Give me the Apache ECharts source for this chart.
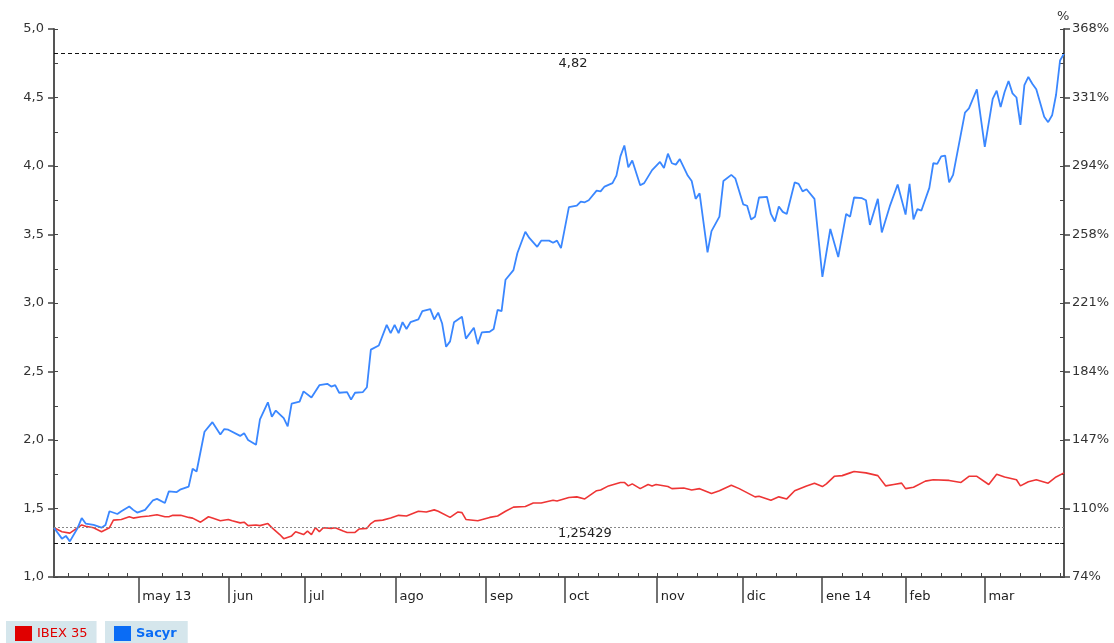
<!DOCTYPE html>
<html lang="es">
<head>
    <meta charset="UTF-8">
    <title>Sacyr vs IBEX 35</title>
    <script src="https://cdn.jsdelivr.net/npm/echarts@6/dist/echarts.min.js"></script>
    <style>
        html, body { margin: 0; padding: 0; background: #fff; }
        #chart { width: 1114px; height: 643px; }
    </style>
</head>
<body>
<div id="chart"></div>
<script type="text/javascript">
// x = trading day index (0 .. 255), y = price (IBEX rebased to Sacyr's start)
var baseValue = 1.359;
var maxLevel = 4.82;
var minLevel = 1.25429;

var monthTicks = [21.3, 44.2, 63.4, 86.2, 109.1, 129.0, 152.2, 173.9, 193.9, 215.0, 234.9];
var monthLabels = ['may 13', 'jun', 'jul', 'ago', 'sep', 'oct', 'nov', 'dic', 'ene 14', 'feb', 'mar'];
var weekTicks = [3.6, 8.6, 13.6, 18.6, 27.4, 32.4, 37.4, 42.4, 47.4, 52.4, 57.4, 62.4, 67.4, 72.4,
    77.4, 82.4, 87.4, 92.4, 97.4, 102.4, 107.4, 112.4, 117.4, 122.4, 127.4, 132.4, 137.4, 142.4,
    147.4, 152.4, 157.4, 162.4, 167.4, 172.4, 177.4, 182.4, 187.4, 199, 204, 209, 214, 219, 224,
    229, 234, 239, 244, 249, 254];

var sacyrDay = [0, 2, 3, 4, 6, 7, 8, 10, 12, 13, 14, 16, 17, 19, 20, 21, 23, 25, 26, 28, 29, 31, 32, 34,
    35, 36, 38, 40, 42, 43, 44, 47, 48, 49, 51, 52, 54, 55, 56, 58, 59, 60, 62, 63, 65, 67, 69, 70,
    71, 72, 74, 75, 76, 78, 79, 80, 82, 84, 85, 86, 87, 88, 89, 90, 92, 93, 95, 96, 97, 98, 99, 100,
    101, 103, 104, 106, 107, 108, 110, 111, 112, 113, 114, 116, 117, 119, 120, 122, 123, 125, 126, 127,
    128, 130, 132, 133, 134, 135, 137, 138, 139, 141, 142, 143, 144, 145, 146, 148, 149, 151, 153, 154,
    155, 156, 157, 158, 160, 161, 162, 163, 165, 166, 168, 169, 171, 172, 174, 175, 176, 177, 178, 180,
    181, 182, 183, 184, 185, 187, 188, 189, 190, 192, 194, 196, 198, 200, 201, 202, 204, 205, 206, 208,
    209, 211, 213, 215, 216, 217, 218, 219, 221, 222, 223, 224, 225, 226, 227, 230, 231, 233, 235, 237,
    238, 239, 240, 241, 242, 243, 244, 245, 246, 247, 248, 250, 251, 252, 253, 254, 255];
var sacyrVal = [1.359, 1.28, 1.30, 1.26, 1.36, 1.43, 1.39, 1.38, 1.36, 1.38, 1.48, 1.46, 1.48, 1.515, 1.49, 1.47,
    1.49, 1.56, 1.57, 1.54, 1.625, 1.62, 1.64, 1.66, 1.79, 1.77, 2.06, 2.13, 2.04, 2.08, 2.075, 2.03, 2.05,
    2.0, 1.965, 2.15, 2.275, 2.17, 2.215, 2.16, 2.10, 2.265, 2.28, 2.355, 2.31, 2.40, 2.41, 2.39, 2.40,
    2.345, 2.35, 2.295, 2.345, 2.35, 2.385, 2.66, 2.69, 2.84, 2.78, 2.84, 2.78, 2.86, 2.81, 2.86, 2.88,
    2.94, 2.955, 2.88, 2.93, 2.85, 2.68, 2.72, 2.86, 2.90, 2.74, 2.82, 2.70, 2.785, 2.79, 2.81, 2.95,
    2.94, 3.17, 3.24, 3.365, 3.52, 3.475, 3.41, 3.455, 3.455, 3.44, 3.455, 3.40, 3.70, 3.71, 3.74, 3.735,
    3.75, 3.82, 3.815, 3.85, 3.875, 3.93, 4.07, 4.15, 3.99, 4.04, 3.86, 3.875, 3.97, 4.03, 3.985, 4.09,
    4.02, 4.01, 4.05, 3.93, 3.89, 3.76, 3.80, 3.37, 3.525, 3.63, 3.89, 3.935, 3.91, 3.72, 3.71, 3.61,
    3.63, 3.77, 3.775, 3.65, 3.595, 3.705, 3.665, 3.65, 3.88, 3.87, 3.815, 3.83, 3.76, 3.19, 3.54, 3.335,
    3.65, 3.63, 3.77, 3.765, 3.75, 3.57, 3.76, 3.515, 3.705, 3.865, 3.645, 3.87, 3.61, 3.685, 3.675, 3.84,
    4.02, 4.015, 4.07, 4.075, 3.88, 3.935, 4.39, 4.42, 4.56, 4.14, 4.49, 4.55, 4.43, 4.54, 4.62, 4.53,
    4.50, 4.30, 4.59, 4.65, 4.60, 4.56, 4.36, 4.32, 4.37, 4.52, 4.77, 4.82];

var ibexDay = [0, 2, 4, 7, 8, 10, 12, 14, 15, 17, 19, 20, 22, 24, 26, 28, 29, 30, 32, 34, 35, 37, 39, 40,
    42, 44, 45, 47, 48, 49, 51, 52, 54, 55, 57, 58, 60, 61, 63, 64, 65, 66, 67, 68, 70, 71, 73, 74, 76,
    77, 79, 80, 81, 83, 85, 87, 89, 92, 94, 96, 97, 100, 102, 103, 104, 107, 110, 112, 114, 116, 119,
    121, 123, 126, 127, 130, 132, 134, 137, 138, 140, 143, 144, 145, 146, 148, 150, 151, 152, 155, 156,
    159, 161, 163, 166, 168, 171, 173, 177, 178, 181, 183, 185, 187, 190, 192, 194, 195, 197, 199, 201,
    202, 205, 208, 210, 212, 214, 215, 217, 220, 222, 226, 229, 231, 233, 236, 238, 240, 243, 244, 246,
    248, 251, 253, 255];
var ibexVal = [1.359, 1.33, 1.32, 1.38, 1.37, 1.36, 1.33, 1.36, 1.415, 1.42, 1.44, 1.43, 1.44, 1.445, 1.455,
    1.44, 1.44, 1.45, 1.45, 1.435, 1.43, 1.40, 1.44, 1.43, 1.41, 1.42, 1.41, 1.395, 1.40, 1.375, 1.38,
    1.375, 1.39, 1.36, 1.31, 1.28, 1.30, 1.33, 1.31, 1.335, 1.31, 1.36, 1.33, 1.36, 1.355, 1.36, 1.335,
    1.325, 1.325, 1.35, 1.355, 1.39, 1.41, 1.415, 1.43, 1.45, 1.445, 1.48, 1.475, 1.49, 1.48, 1.435,
    1.475, 1.47, 1.42, 1.41, 1.435, 1.445, 1.48, 1.51, 1.515, 1.54, 1.54, 1.56, 1.555, 1.58, 1.585,
    1.57, 1.63, 1.635, 1.665, 1.69, 1.69, 1.665, 1.68, 1.645, 1.675, 1.665, 1.675, 1.66, 1.645, 1.65,
    1.635, 1.645, 1.61, 1.63, 1.67, 1.645, 1.585, 1.59, 1.56, 1.585, 1.57, 1.63, 1.665, 1.685, 1.66,
    1.68, 1.735, 1.74, 1.76, 1.77, 1.76, 1.74, 1.665, 1.675, 1.685, 1.645, 1.655, 1.70, 1.71, 1.705,
    1.69, 1.735, 1.735, 1.675, 1.75, 1.73, 1.71, 1.665, 1.695, 1.71, 1.685, 1.73, 1.76];

function pairs(days, vals) {
    return days.map(function (d, i) { return [d, vals[i]]; });
}

var font = '"DejaVu Sans", Verdana, sans-serif';
var axisColor = '#555';
var textColor = '#333';

var chart = echarts.init(document.getElementById('chart'), null, {renderer: 'canvas'});

var option = {
    backgroundColor: '#fff',
    animation: false,
    textStyle: {fontFamily: font},
    grid: {left: 54, right: 50, top: 29, bottom: 66, containLabel: false},
    graphic: [{
        type: 'text', left: 1057, top: 10, silent: true,
        style: {text: '%', fill: textColor, font: '13px ' + font}
    }],
    legend: [{
        left: 6, top: 621, padding: [5, 9, 5, 9],
        backgroundColor: '#d5e6ec',
        icon: 'rect', itemWidth: 17, itemHeight: 15, itemGap: 5,
        data: [{name: 'IBEX 35', itemStyle: {color: '#e00000'}}],
        textStyle: {color: '#e00000', fontSize: 13, fontFamily: font}
    }, {
        left: 105, top: 621, padding: [5, 11, 5, 9],
        backgroundColor: '#d5e6ec',
        icon: 'rect', itemWidth: 17, itemHeight: 15, itemGap: 5,
        data: [{name: 'Sacyr', itemStyle: {color: '#0a6cf5'}}],
        textStyle: {color: '#0a6cf5', fontSize: 13, fontWeight: 'bold', fontFamily: font}
    }],
    xAxis: [{
        type: 'value', min: 0, max: 255, position: 'bottom',
        axisLine: {show: true, onZero: false, lineStyle: {color: axisColor, width: 2}},
        axisTick: {show: true, customValues: monthTicks, length: 26, inside: false,
            lineStyle: {color: '#444', width: 1.5}},
        axisLabel: {show: true, customValues: monthTicks, align: 'left', margin: 13,
            padding: [0, 0, 0, 4], color: '#222', fontSize: 13, fontFamily: font,
            formatter: function (v) {
                var i = monthTicks.indexOf(v);
                return i >= 0 ? monthLabels[i] : '';
            }},
        splitLine: {show: false}
    }, {
        type: 'value', min: 0, max: 255, position: 'bottom',
        axisLine: {show: false, onZero: false},
        axisTick: {show: true, customValues: weekTicks, length: 4, inside: true,
            lineStyle: {color: '#444', width: 1}},
        axisLabel: {show: false},
        splitLine: {show: false}
    }],
    yAxis: [{
        type: 'value', min: 1, max: 5, interval: 0.5, position: 'left',
        axisLine: {show: true, onZero: false, lineStyle: {color: axisColor, width: 2}},
        axisTick: {show: true, length: 6, lineStyle: {color: '#444', width: 1.5}},
        axisLabel: {color: textColor, fontSize: 13, margin: 10, fontFamily: font,
            formatter: function (v) { return v.toFixed(1).replace('.', ','); }},
        splitLine: {show: false}
    }, {
        type: 'value', min: 1, max: 5, interval: 0.5, position: 'right',
        axisLine: {show: true, onZero: false, lineStyle: {color: axisColor, width: 2}},
        axisTick: {show: true, length: 6, lineStyle: {color: '#444', width: 1.5}},
        axisLabel: {color: textColor, fontSize: 13, margin: 8, fontFamily: font,
            formatter: function (v) { return Math.round(v / baseValue * 100) + '%'; }},
        splitLine: {show: false}
    }, {
        type: 'value', min: 1, max: 5, interval: 0.25, position: 'left',
        axisLine: {show: false, onZero: false},
        axisTick: {show: true, inside: true, length: 4, lineStyle: {color: '#444', width: 1}},
        axisLabel: {show: false},
        splitLine: {show: false}
    }, {
        type: 'value', min: 1, max: 5, interval: 0.25, position: 'right',
        axisLine: {show: false, onZero: false},
        axisTick: {show: true, inside: true, length: 4, lineStyle: {color: '#444', width: 1}},
        axisLabel: {show: false},
        splitLine: {show: false}
    }],
    series: [{
        name: 'IBEX 35', type: 'line', xAxisIndex: 0, yAxisIndex: 0,
        data: pairs(ibexDay, ibexVal),
        showSymbol: false, symbol: 'none',
        lineStyle: {color: '#ee3535', width: 1.6},
        itemStyle: {color: '#e00000'},
        markLine: {
            silent: true, symbol: 'none', animation: false,
            data: [{
                yAxis: maxLevel,
                lineStyle: {color: '#111', type: [4, 3], width: 1},
                label: {show: true, position: 'insideMiddleBottom', distance: 3,
                    formatter: '4,82', color: '#222', fontSize: 13, fontFamily: font,
                    padding: [0, 0, 0, 28]}
            }, {
                yAxis: minLevel,
                lineStyle: {color: '#111', type: [4, 3], width: 1},
                label: {show: true, position: 'insideMiddleTop', distance: 3,
                    formatter: '1,25429', color: '#222', fontSize: 13, fontFamily: font,
                    padding: [0, 0, 0, 52]}
            }, {
                yAxis: baseValue,
                lineStyle: {color: '#888', type: [2, 2], width: 1},
                label: {show: false}
            }]
        },
        z: 3
    }, {
        name: 'Sacyr', type: 'line', xAxisIndex: 0, yAxisIndex: 0,
        data: pairs(sacyrDay, sacyrVal),
        showSymbol: false, symbol: 'none',
        lineStyle: {color: '#3a87ff', width: 1.8},
        itemStyle: {color: '#0a6cf5'},
        z: 4
    }]
};

chart.setOption(option);
</script>
</body>
</html>
